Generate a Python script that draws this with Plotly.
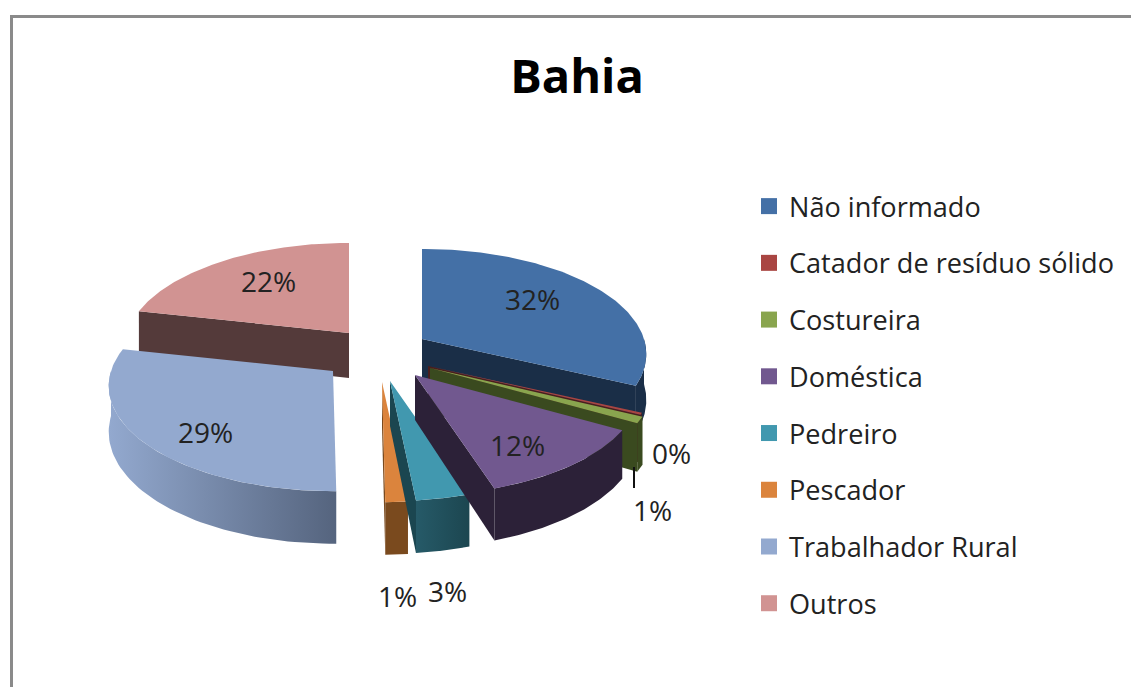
import numpy as np
import plotly.graph_objects as go

# ---- data ----
categories = ["Não informado", "Catador de resíduo sólido", "Costureira", "Doméstica",
              "Pedreiro", "Pescador", "Trabalhador Rural", "Outros"]
values = [32.0, 0.3, 1.0, 11.7, 3.4, 1.4, 28.7, 21.5]
title_text = "Bahia"

# ---- style ----
top_colors = ["#4470A6", "#A94542", "#89A54E", "#71588F", "#4198AF", "#DB843D", "#93A9CF", "#D19392"]
cut_colors = ["#1A2E47", "#4A1E1D", "#3A4A1F", "#2C2138", "#1B4650", "#7A4A1E", "#55647E", "#543A3A"]
wall_left = ["#1A2E47", "#4A1E1D", "#3A4A1F", "#2C2138", "#265A68", "#7A4A1E", "#93A9CF", "#543A3A"]
wall_right = ["#1A2E47", "#4A1E1D", "#3A4A1F", "#2C2138", "#1C4650", "#7A4A1E", "#55647E", "#543A3A"]
apex_x = [422, 428, 430, 415, 390, 382, 333, 349]
apex_y = [339, 366, 368, 375, 381, 382, 371, 333]
draw_order = [7, 6, 0, 1, 2, 5, 4, 3]
label_x = [532, 671, 652, 517, 447, 397, 205, 268]
label_y = [299, 453, 510, 445, 591, 596, 432, 281]
RX, RY, PERSP, DEPTH = 222, 103, 0.143, 45


def rim(a_deg):
    a = np.radians(a_deg)
    s = 1 / (1 + PERSP * np.cos(a))
    return RX * np.sin(a) * s, -RY * np.cos(a) * s, DEPTH * s


fig = go.Figure()


def poly(xs, ys, color, c2=None):
    kw = dict(fillcolor=color)
    if c2 is not None and c2 != color:
        kw["fillgradient"] = dict(type="horizontal", colorscale=[[0, color], [1, c2]])
    fig.add_trace(go.Scatter(x=list(xs), y=list(ys), mode="lines", fill="toself",
                             line=dict(width=0), showlegend=False,
                             hoverinfo="skip", **kw))


edges = np.concatenate([[0], np.cumsum(values) / np.sum(values) * 360])
for i in draw_order:
    a0, a1 = edges[i], edges[i + 1]
    ax, ay = apex_x[i], apex_y[i]
    # cut faces
    for ang, visible in ((a0, a0 > 180), (a1, a1 < 180)):
        if visible:
            dx, dy, d = rim(ang)
            poly([ax, ax + dx, ax + dx, ax, ax], [ay, ay + dy, ay + dy + d, ay + DEPTH, ay], cut_colors[i])
    # outer wall
    lo, hi = max(a0, 90), min(a1, 270)
    if hi > lo:
        th = np.linspace(lo, hi, 60)
        dx, dy, d = rim(th)
        xs = np.concatenate([ax + dx, (ax + dx)[::-1]])
        ys = np.concatenate([ay + dy, (ay + dy + d)[::-1]])
        poly(xs, ys, wall_left[i], wall_right[i])
    # top face
    th = np.linspace(a0, a1, 120)
    dx, dy, _ = rim(th)
    poly(np.concatenate([[ax], ax + dx, [ax]]), np.concatenate([[ay], ay + dy, [ay]]), top_colors[i])

# legend entries
for i, name in enumerate(categories):
    fig.add_trace(go.Scatter(x=[None], y=[None], mode="markers", name=name, legendgroup=name,
                             marker=dict(symbol="square", size=16, color=top_colors[i]),
                             hoverinfo="skip"))

for i, v in enumerate(values):
    fig.add_annotation(x=label_x[i], y=label_y[i], text=f"{round(v)}%", showarrow=False,
                       font=dict(size=28, color="#222222", family="Open Sans"))

# leader line and frame
fig.add_shape(type="line", x0=634, x1=634, y0=467, y1=488, line=dict(color="#111111", width=2))
fig.add_shape(type="line", x0=10, x1=1131, y0=16.5, y1=16.5, line=dict(color="#8A8A8A", width=3))
fig.add_shape(type="line", x0=11.5, x1=11.5, y0=15, y1=687, line=dict(color="#8A8A8A", width=3))

fig.update_layout(
    width=1131, height=687, autosize=False,
    margin=dict(l=0, r=0, t=0, b=0),
    paper_bgcolor="white", plot_bgcolor="white",
    xaxis=dict(range=[0, 1131], visible=False, fixedrange=True),
    yaxis=dict(range=[687, 0], visible=False, fixedrange=True),
    title=dict(text=f"<b>{title_text}</b>", x=577 / 1131, xanchor="center",
               y=1 - 77 / 687, yanchor="middle",
               font=dict(size=47, color="black", family="Open Sans")),
    legend=dict(x=749 / 1131, xanchor="left", y=1 - 182 / 687, yanchor="top",
                font=dict(size=27.1, color="#222222", family="Open Sans"),
                tracegroupgap=18.5, bgcolor="rgba(0,0,0,0)", itemclick=False, itemdoubleclick=False),
)
fig.write_html("out.html", config=dict(displayModeBar=False),
               post_script="document.body.style.margin='0';document.body.style.overflow='hidden';")
